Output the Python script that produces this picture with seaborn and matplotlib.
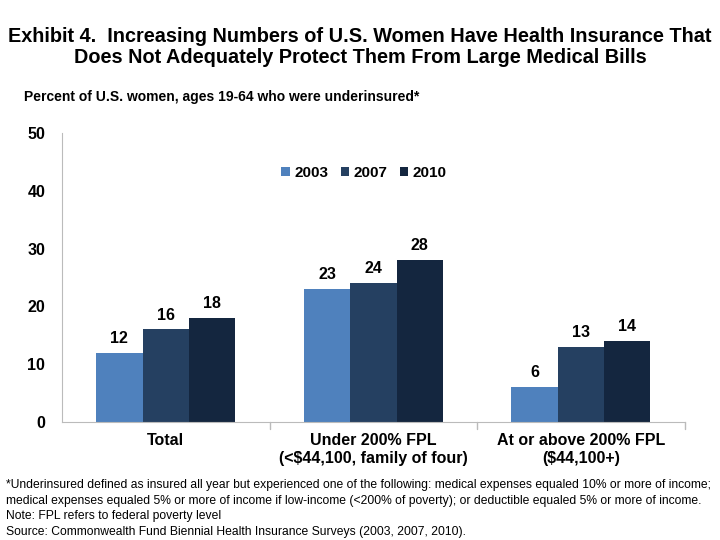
import pandas as pd
import matplotlib
matplotlib.use("Agg")
import matplotlib.pyplot as plt
import seaborn as sns

categories = ["Total", "Under 200% FPL\n(<$44,100, family of four)", "At or above 200% FPL\n($44,100+)"]
years = ["2003", "2007", "2010"]
values_2003 = [12, 23, 6]
values_2007 = [16, 24, 13]
values_2010 = [18, 28, 14]

colors = ["#4F81BD", "#254061", "#14263F"]

rows = []
for year, vals in zip(years, [values_2003, values_2007, values_2010]):
    for cat, v in zip(categories, vals):
        rows.append({"category": cat, "year": year, "value": v})
df = pd.DataFrame(rows)

sns.set_style("white")
plt.rcParams["font.family"] = ["Liberation Sans", "DejaVu Sans"]
plt.rcParams["text.color"] = "black"
plt.rcParams["xtick.color"] = "black"
plt.rcParams["ytick.color"] = "black"

fig = plt.figure(figsize=(7.2, 5.4), dpi=100)
ax = fig.add_axes([0.086, 0.2185, 0.865, 0.5355])

sns.barplot(data=df, x="category", y="value", hue="year", palette=colors,
            width=0.67, saturation=1, linewidth=0, edgecolor="none", ax=ax)

for container in ax.containers:
    ax.bar_label(container, padding=5, fontsize=11.5, fontweight="bold")

ax.set_ylim(0, 50)
ax.set_yticks([0, 10, 20, 30, 40, 50])
ax.set_xlim(-0.5, 2.5)
ax.set_xlabel("")
ax.set_ylabel("")
for lbl in ax.get_yticklabels() + ax.get_xticklabels():
    lbl.set_fontweight("bold")
    lbl.set_fontsize(11.5)
ax.tick_params(axis="y", length=4, color="#BBBBBB", pad=8)
ax.tick_params(axis="x", length=0, pad=8)
for x in [0.5, 1.5, 2.5]:
    ax.plot([x, x], [0, -1.2], color="#BBBBBB", lw=1, clip_on=False)
sns.despine(ax=ax, top=True, right=True)
ax.spines["left"].set_color("#BBBBBB")
ax.spines["bottom"].set_color("#BBBBBB")

leg = ax.legend(loc="center", bbox_to_anchor=(0.485, 0.862), ncol=3,
                frameon=False, fontsize=11, handlelength=0.55, handleheight=0.55,
                handletextpad=0.3, columnspacing=0.8)
for t in leg.get_texts():
    t.set_fontweight("bold")

fig.text(0.5, 0.913, "Exhibit 4.  Increasing Numbers of U.S. Women Have Health Insurance That\nDoes Not Adequately Protect Them From Large Medical Bills",
         ha="center", va="center", fontsize=14.3, fontweight="bold", linespacing=1.15)
fig.text(0.033, 0.82, "Percent of U.S. women, ages 19-64 who were underinsured*",
         ha="left", va="center", fontsize=10, fontweight="bold")

footnote = ("*Underinsured defined as insured all year but experienced one of the following: medical expenses equaled 10% or more of income;\n"
            "medical expenses equaled 5% or more of income if low-income (<200% of poverty); or deductible equaled 5% or more of income.\n"
            "Note: FPL refers to federal poverty level\n"
            "Source: Commonwealth Fund Biennial Health Insurance Surveys (2003, 2007, 2010).")
fig.text(0.009, 0.004, footnote, ha="left", va="bottom", fontsize=8.7,
         linespacing=1.4)

fig.savefig("out.png", dpi=100)
